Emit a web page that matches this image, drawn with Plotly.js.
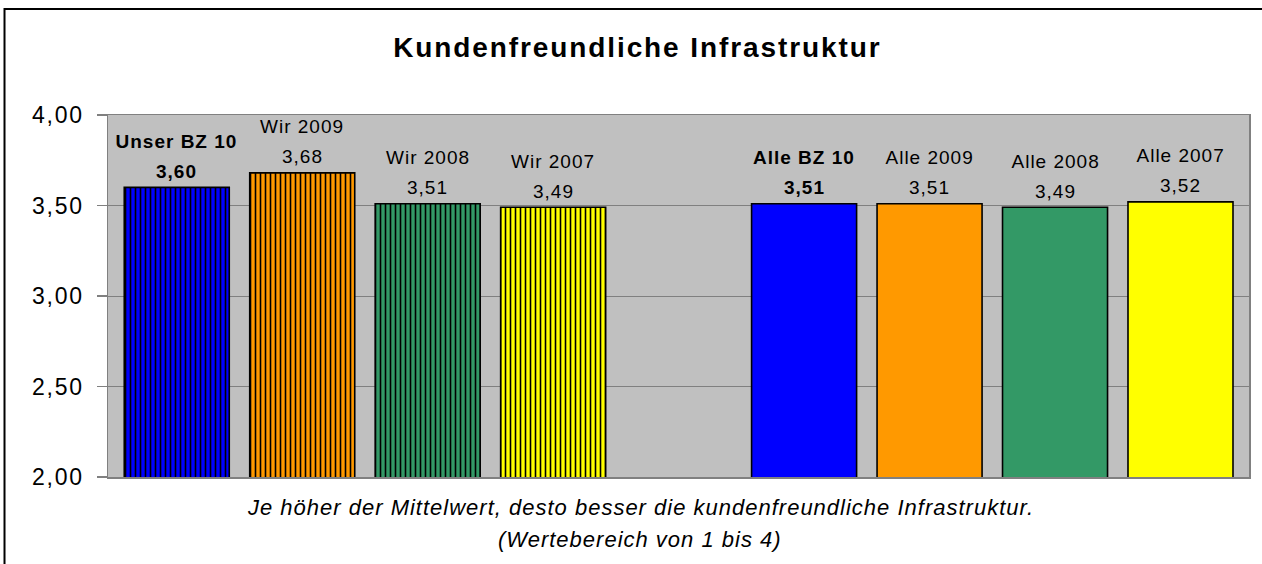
<!DOCTYPE html>
<html>
<head>
<meta charset="utf-8">
<script src="https://cdn.plot.ly/plotly-3.0.1.min.js"></script>
<style>
html,body{margin:0;padding:0;background:#fff;}
#chart{width:1262px;height:564px;}
#chart .gtitle{letter-spacing:1.9px;}
#chart .ytick text{letter-spacing:1.8px;}
#chart .annotation-text{letter-spacing:1px;}
</style>
</head>
<body>
<div id="chart"></div>
<script>
// Data
const categories = ["Unser BZ 10", "Wir 2009", "Wir 2008", "Wir 2007", "Alle BZ 10", "Alle 2009", "Alle 2008", "Alle 2007"];
const values = [3.60, 3.68, 3.51, 3.49, 3.51, 3.51, 3.49, 3.52];
const colors = ["#0000FF", "#FF9900", "#339966", "#FFFF00", "#0000FF", "#FF9900", "#339966", "#FFFF00"];
const patterned = [true, true, true, true, false, false, false, false];
const boldLabels = ["Unser BZ 10", "Alle BZ 10"];
const gapCategory = " ";
const axisCategories = categories.slice(0, 4).concat([gapCategory], categories.slice(4));
const yTicks = [2.0, 2.5, 3.0, 3.5, 4.0];
const titleText = "Kundenfreundliche Infrastruktur";
const noteLines = ["Je höher der Mittelwert, desto besser die kundenfreundliche Infrastruktur.", "(Wertebereich von 1 bis 4)"];

const font = "Liberation Sans, Arial, sans-serif";
const fmt = v => v.toFixed(2).replace(".", ",");

// one trace per bar so each bar keeps its own pattern colours
const traces = categories.map((c, i) => ({
  type: "bar",
  name: c,
  x: [c],
  y: [values[i]],
  marker: {
    color: colors[i],
    line: {color: "#000000", width: 1.6},
    pattern: patterned[i] ? {
      shape: "|",
      fgcolor: "#000000",
      bgcolor: colors[i],
      fgopacity: 1,
      size: 5,
      solidity: 0.32,
      fillmode: "overlay"
    } : {shape: ""}
  },
  hoverinfo: "x+y",
  cliponaxis: false
}));

const annotations = [];
categories.forEach((c, i) => {
  const b = boldLabels.includes(c);
  annotations.push({
    x: c, y: values[i], xref: "x", yref: "y",
    text: b ? "<b>" + c + "</b>" : c,
    showarrow: false, yanchor: "middle", yshift: 46,
    font: {family: font, size: 19, color: "#000"}
  });
  annotations.push({
    x: c, y: values[i], xref: "x", yref: "y",
    text: b ? "<b>" + fmt(values[i]) + "</b>" : fmt(values[i]),
    showarrow: false, yanchor: "middle", yshift: 16,
    font: {family: font, size: 19, color: "#000"}
  });
});
noteLines.forEach((t, i) => {
  annotations.push({
    x: 0.4663, y: i === 0 ? -0.0856 : -0.174, xref: "paper", yref: "paper",
    text: "<i>" + t + "</i>", showarrow: false, xanchor: "center", yanchor: "middle",
    font: {family: font, size: 22, color: "#000"}
  });
});

const layout = {
  width: 1262, height: 564,
  margin: {l: 108, r: 13, t: 115, b: 87},
  paper_bgcolor: "#FFFFFF",
  plot_bgcolor: "#C0C0C0",
  separators: ",.",
  showlegend: false,
  barmode: "overlay",
  bargap: 0.163,
  title: {
    text: "<b>" + titleText + "</b>",
    x: 0.505, xref: "container", xanchor: "center",
    y: 0.917, yref: "container", yanchor: "middle",
    font: {family: font, size: 28, color: "#000"}
  },
  xaxis: {
    type: "category",
    categoryorder: "array",
    categoryarray: axisCategories,
    range: [-0.548, 8.546],
    showticklabels: false,
    ticks: "",
    showgrid: false,
    showline: true, linecolor: "#808080", linewidth: 1.5, mirror: true,
    zeroline: false, fixedrange: true
  },
  yaxis: {
    range: [2, 4],
    tickvals: yTicks,
    tickformat: ".2f",
    ticks: "outside", ticklen: 10, tickcolor: "#808080", tickwidth: 1.5,
    ticklabelstandoff: 8,
    tickfont: {family: font, size: 23, color: "#000"},
    showgrid: true, gridcolor: "#808080", gridwidth: 1,
    showline: true, linecolor: "#808080", linewidth: 1.5, mirror: true,
    zeroline: false, fixedrange: true
  },
  annotations: annotations,
  shapes: [{
    type: "rect", xref: "paper", yref: "paper",
    x0: -0.0907, x1: 1.02, y0: -0.26, y1: 1.2928,
    line: {color: "#000000", width: 2}, fillcolor: "rgba(0,0,0,0)", layer: "below"
  }]
};

Plotly.newPlot("chart", traces, layout, {displayModeBar: false, staticPlot: true});
</script>
</body>
</html>
